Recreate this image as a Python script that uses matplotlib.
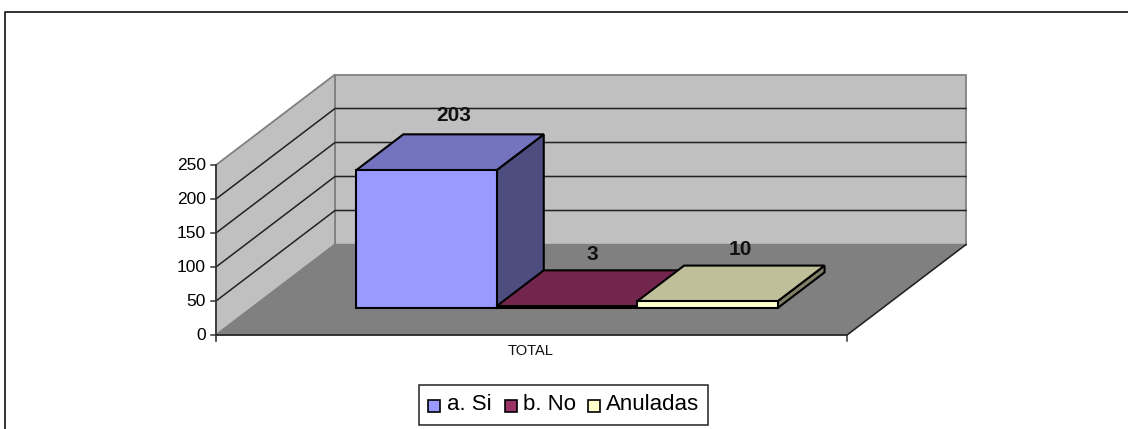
import matplotlib
matplotlib.use('Agg')
import matplotlib.pyplot as plt
from matplotlib.patches import Polygon, Rectangle

plt.rcParams['font.family'] = ['Liberation Sans', 'DejaVu Sans']

series = ['a. Si', 'b. No', 'Anuladas']
values = [203, 3, 10]
category = 'TOTAL'
y_ticks = [0, 50, 100, 150, 200, 250]

front_colors = ['#9999FF', '#993366', '#FFFFCC']
top_colors = ['#7373BF', '#73264D', '#BFBF99']
side_colors = ['#4D4D80', '#4D1A33', '#808066']

# pixel geometry of the fake 3D box
X0, Y0 = 216, 335
PLOT_W = 631
PLOT_H = 170
DEPTH_X, DEPTH_Y = 119, -90.5
BAR_W = 140.4
BAR_START = 140 - 35
BAR_DEPTH = (0.297, 0.692)
LABEL_DX = [-20, -22, -14]
LABEL_DY = [9, 6, 7]


def proj(x, val, depth):
    # x in px along the front edge, val in data units, depth 0..1
    return (X0 + x + DEPTH_X * depth,
            Y0 - val / y_ticks[-1] * PLOT_H + DEPTH_Y * depth)


def face(ax, pts, color, ec='black', lw=1.5, z=2):
    ax.add_patch(Polygon(pts, closed=True, fc=color, ec=ec, lw=lw, zorder=z, joinstyle='miter'))


fig = plt.figure(figsize=(11.28, 4.29), dpi=100)
ax = fig.add_axes([0, 0, 1, 1])
ax.set_xlim(0, 1128)
ax.set_ylim(429, 0)
ax.axis('off')

# outer frame, only top and left are in the picture
ax.plot([5, 5, 1128], [429, 12, 12], color='#222222', lw=1.3, zorder=1)

top = y_ticks[-1]
# walls and floor
face(ax, [proj(0, 0, 1), proj(PLOT_W, 0, 1), proj(PLOT_W, top, 1), proj(0, top, 1)], '#C0C0C0', '#808080', 1.3, 1)
face(ax, [proj(0, 0, 0), proj(0, 0, 1), proj(0, top, 1), proj(0, top, 0)], '#C0C0C0', '#808080', 1.3, 1)
face(ax, [proj(0, 0, 0), proj(PLOT_W, 0, 0), proj(PLOT_W, 0, 1), proj(0, 0, 1)], '#808080', '#808080', 1, 1)

# gridlines on both walls
for t in y_ticks[1:-1]:
    xs, ys = zip(proj(0, t, 0), proj(0, t, 1), proj(PLOT_W, t, 1))
    ax.plot(xs, ys, color='#222222', lw=1.1, zorder=1.5)

# bars, drawn left to right
for i, (val, fc, tc, sc) in enumerate(zip(values, front_colors, top_colors, side_colors)):
    x1 = BAR_START + i * BAR_W
    x2 = x1 + BAR_W
    d1, d2 = BAR_DEPTH
    z = 2 + i
    face(ax, [proj(x2, 0, d1), proj(x2, 0, d2), proj(x2, val, d2), proj(x2, val, d1)], sc, z=z)
    face(ax, [proj(x1, val, d1), proj(x2, val, d1), proj(x2, val, d2), proj(x1, val, d2)], tc, z=z)
    face(ax, [proj(x1, 0, d1), proj(x2, 0, d1), proj(x2, val, d1), proj(x1, val, d1)], fc, z=z)
    lx, ly = proj((x1 + x2) / 2, val, d2)
    ax.text(lx + LABEL_DX[i], ly - LABEL_DY[i], str(val), ha='center', va='bottom',
            fontsize=15, fontweight='bold', color='#111111', zorder=6)

# axes and ticks
ax.plot([X0, X0], [proj(0, top, 0)[1], Y0 + 6], color='#333333', lw=1.2, zorder=5)
ax.plot([X0, X0 + PLOT_W], [Y0, Y0], color='#222222', lw=1.2, zorder=5)
ax.plot([X0 + PLOT_W] * 2, [Y0, Y0 + 6], color='#333333', lw=1.1, zorder=5)
ax.plot([X0 + PLOT_W, X0 + PLOT_W + DEPTH_X], [Y0, Y0 + DEPTH_Y], color='#222222', lw=1.1, zorder=1.5)
for t in y_ticks:
    _, y = proj(0, t, 0)
    ax.plot([X0 - 5, X0], [y, y], color='#333333', lw=1.1, zorder=5)
    ax.text(X0 - 10, y, str(t), ha='right', va='center', fontsize=12.5, color='black')
ax.text(X0 + PLOT_W / 2 - 0.5, 351, category, ha='center', va='center', fontsize=10.5, color='#111111')

# legend
ax.add_patch(Rectangle((419, 385), 289, 40, fc='white', ec='#222222', lw=1.1, zorder=5))
for x, tx, lab, fc in zip([427.5, 504.5, 587.5], [447, 523, 606], series, front_colors):
    ax.add_patch(Rectangle((x, 399.5), 12.5, 12.5, fc=fc, ec='black', lw=1.2, zorder=6))
    ax.text(tx, 404.5, lab, ha='left', va='center', fontsize=16, color='black', zorder=6)

fig.savefig('out.png', dpi=100)
